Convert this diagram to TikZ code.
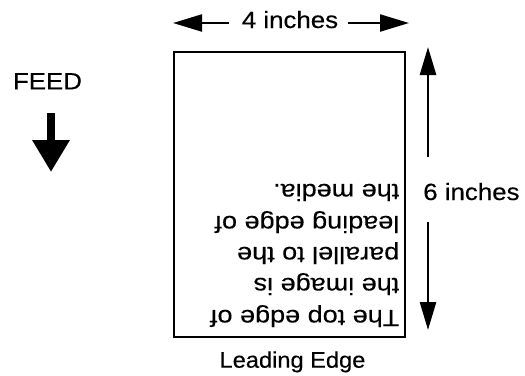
\documentclass[tikz,border=0pt]{standalone}
\usepackage{fontspec}
\setmainfont{Liberation Sans}[FakeStretch=1.1, FakeBold=0.3]
\newfontfamily\widefont{Liberation Sans}[FakeStretch=1.15, FakeBold=0.3]
\newfontfamily\narrowfont{Liberation Sans}[FakeStretch=1.05, FakeBold=0.3]
\usetikzlibrary{arrows.meta}
\begin{document}
\begin{tikzpicture}[x=1bp,y=-1bp,
  lbl/.style={inner sep=0pt, font=\fontsize{23.5bp}{28bp}\selectfont},
  upside/.style={inner sep=0pt, rotate=180, anchor=base west, font=\widefont\fontsize{23.5bp}{28bp}\selectfont},
  dimarrow/.style={line width=2.2bp, -{Triangle[length=29bp,width=17bp]}},
  vdimarrow/.style={line width=2.6bp, -{Triangle[length=28bp,width=16bp]}},
  feedarrow/.style={line width=8bp, -{Triangle[length=32bp,width=35.5bp]}}]
\useasboundingbox (0,0) rectangle (525,375);
% page
\node[draw, line width=2.2bp, minimum width=231bp, minimum height=285.3bp, inner sep=0pt, anchor=north west] (page) at (173,50.7) {};
% width dimension
\node[lbl, anchor=base] (four) at (290,28) {4 inches};
\coordinate (wl1) at (229,23);
\coordinate (wl2) at (173,23);
\coordinate (wr1) at (348,23);
\coordinate (wr2) at (409,23);
\draw[dimarrow] (wl1) -- (wl2);
\draw[dimarrow] (wr1) -- (wr2);
% height dimension
\node[lbl, anchor=base] (six) at (471.4,200) {6 inches};
\coordinate (hu1) at (428,157);
\coordinate (hu2) at (428,47);
\coordinate (hd1) at (428,222);
\coordinate (hd2) at (428,330);
\draw[vdimarrow] (hu1) -- (hu2);
\draw[vdimarrow] (hd1) -- (hd2);
% feed
\node[lbl, anchor=base] (feed) at (47.5,89.3) {FEED};
\coordinate (f1) at (51,113);
\coordinate (f2) at (51,172);
\draw[feedarrow] (f1) -- (f2);
% leading edge label
\node[inner sep=0pt, anchor=base, font=\narrowfont\fontsize{22.5bp}{27bp}\selectfont] (lead) at (292.5,367.7) {Leading Edge};
% upside-down text
\node[upside] (t1) at (399.5,310) {The top edge of};
\node[upside] (t2) at (399.5,278) {the image is};
\node[upside] (t3) at (399.5,247) {parallel to the};
\node[upside] (t4) at (399.5,216) {leading edge of};
\node[upside] (t5) at (399.5,184) {the media.};
\end{tikzpicture}
\end{document}
